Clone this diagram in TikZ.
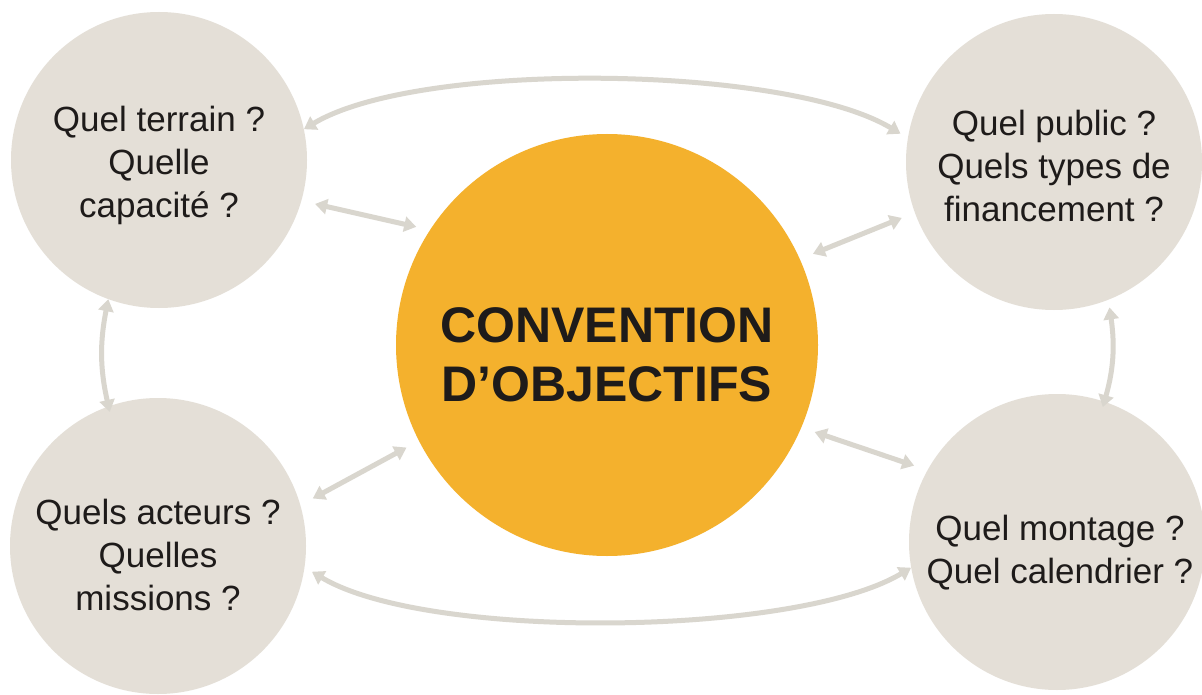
\documentclass[tikz,border=0pt]{standalone}
\usepackage{fontspec}
\setmainfont{Liberation Sans}
\usetikzlibrary{arrows.meta}
\definecolor{beige}{HTML}{E4DFD7}
\definecolor{orangeC}{HTML}{F4B12D}
\definecolor{arrowgray}{HTML}{D9D6CE}
\definecolor{txt}{HTML}{1E1B1A}
\begin{document}
\begin{tikzpicture}[x=1pt,y=-1pt,
  outer/.style={circle,fill=beige,minimum size=296pt,inner sep=0pt},
  qtext/.style={align=center,text=txt,inner sep=0pt,font=\fontsize{35}{43}\selectfont},
  mainc/.style={circle,fill=orangeC,minimum size=422pt,inner sep=0pt},
  ctext/.style={align=center,text=txt,inner sep=0pt,font=\fontsize{50}{59}\selectfont\bfseries},
  link/.style={draw=arrowgray,line width=5pt,{Triangle[width=15pt,length=12pt]}-{Triangle[width=15pt,length=12pt]}},
  gap/.style={shorten <=14pt,shorten >=14pt}
]
\fill[white] (0,0) rectangle (1202,695);
\useasboundingbox (0,0) rectangle (1202,695);

\node[outer] (tl) at (159,160) {};
\node[outer] (tr) at (1054,162) {};
\node[outer] (bl) at (158,546) {};
\node[outer] (br) at (1057,542) {};
\node[mainc] (c) at (607,345) {};

\node[qtext] (tlt) at ([yshift=-5pt]tl.center) {Quel terrain ?\\Quelle\\capacité ?};
\node[qtext] (trt) at ([yshift=-4pt]tr.center) {Quel public ?\\Quels types de\\financement ?};
\node[qtext] (blt) at ([yshift=-9pt]bl.center) {Quels acteurs ?\\Quelles\\missions ?};
\node[qtext] (brt) at ([xshift=3pt,yshift=-11pt]br.center) {Quel montage ?\\Quel calendrier ?};
\node[ctext] (ct) at ([yshift=-10pt]c.center) {CONVENTION\\D’OBJECTIFS};

% arcs
\draw[link] (tl.12) .. controls +(115,-69) and +(-115,-69) .. ([shift={(-8pt,0)}]tr.169);
\draw[link] ([shift={(8pt,0)}]bl.-10) .. controls +(115,69) and +(-115,69) .. (br.-170);
\draw[link] (tl.-110) to[bend right=12] ([shift={(0,-6pt)}]bl.109);
\draw[link] ([shift={(0,-8pt)}]tr.-68) to[bend left=12] ([shift={(0,-6pt)}]br.72);

% diagonals
\draw[link,gap] (tl.-16) -- (c.147);
\draw[link,gap] (tr.-160) -- (c.24);
\draw[link,gap] (bl.16) -- (c.-153);
\draw[link,gap] (br.151) -- (c.-23);
\end{tikzpicture}
\end{document}
